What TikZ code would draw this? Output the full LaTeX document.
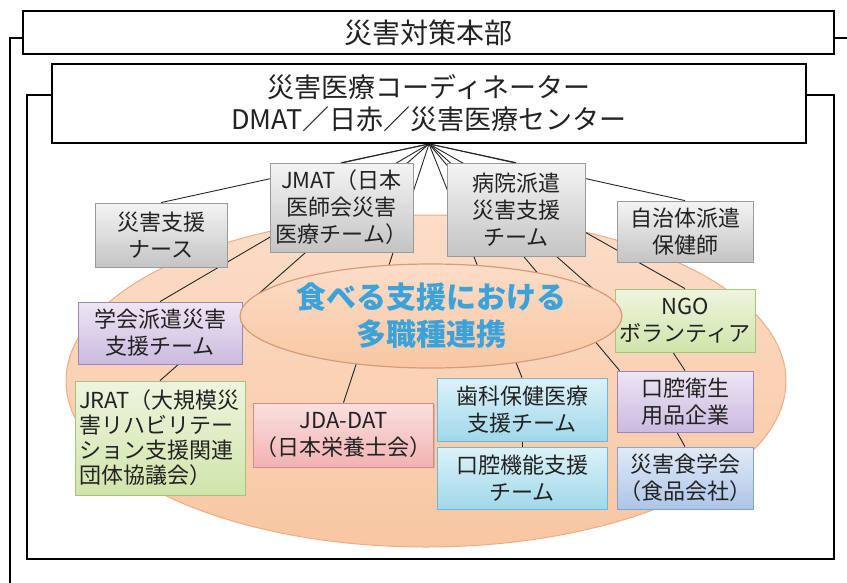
\documentclass[tikz,border=0pt]{standalone}
\usepackage{fontspec}
\setmainfont{Noto Sans CJK JP}
\usetikzlibrary{shapes.geometric,shadows,calc}
\pgfdeclarelayer{bg}
\pgfdeclarelayer{lines}
\pgfsetlayers{bg,lines,main}
\definecolor{greyT}{HTML}{F4F4F4}
\definecolor{greyB}{HTML}{C4C4C4}
\definecolor{greyD}{HTML}{9A9A9A}
\definecolor{purpT}{HTML}{EDE6F4}
\definecolor{purpB}{HTML}{CBBADF}
\definecolor{purpD}{HTML}{9C86B8}
\definecolor{greenT}{HTML}{EEF5DF}
\definecolor{greenB}{HTML}{D0E4AA}
\definecolor{greenD}{HTML}{A7C47C}
\definecolor{pinkT}{HTML}{FBE0E0}
\definecolor{pinkB}{HTML}{F2B2B2}
\definecolor{pinkD}{HTML}{D48A8A}
\definecolor{cyanT}{HTML}{DDF2F9}
\definecolor{cyanB}{HTML}{A0D8EA}
\definecolor{cyanD}{HTML}{72B7CE}
\definecolor{blueT}{HTML}{E2EAF6}
\definecolor{blueB}{HTML}{ACC5E8}
\definecolor{blueD}{HTML}{86A3CC}
\definecolor{peachT}{HTML}{FCDDC8}
\definecolor{peachB}{HTML}{F8C7A2}
\definecolor{peachD}{HTML}{EDAD84}
\definecolor{cblue}{HTML}{3BA3DA}
\definecolor{txt}{HTML}{222222}
\begin{document}
\begin{tikzpicture}[x=1pt,y=-1pt,
  frame/.style={draw=black, line width=1.8pt},
  titlebox/.style={rectangle, draw=black, line width=1.8pt, fill=white, inner sep=0pt, align=center, text=txt},
  base/.style={rectangle, inner sep=2pt, align=center, text=txt, line width=0.8pt,
    font=\fontsize{22}{27}\selectfont,
    drop shadow={shadow xshift=1.3pt, shadow yshift=-1.3pt, opacity=0.3}},
  greybox/.style={base, draw=greyD, top color=greyT, bottom color=greyB},
  purpbox/.style={base, draw=purpD, top color=purpT, bottom color=purpB},
  greenbox/.style={base, draw=greenD, top color=greenT, bottom color=greenB},
  pinkbox/.style={base, draw=pinkD, top color=pinkT, bottom color=pinkB},
  cyanbox/.style={base, draw=cyanD, top color=cyanT, bottom color=cyanB},
  bluebox/.style={base, draw=blueD, top color=blueT, bottom color=blueB},
  conn/.style={draw=black!85, line width=0.9pt}
]
\useasboundingbox (0,0) rectangle (847,582);
\begin{pgfonlayer}{bg}
  \fill[white] (0,0) rectangle (847,582);
  \node[ellipse, inner sep=0pt, minimum width=720pt, minimum height=332pt,
        draw=peachD, line width=1pt, top color=peachT, bottom color=peachB] (field) at (426,381) {};
\end{pgfonlayer}

% headquarters and coordinator
\node[titlebox, minimum width=811pt, minimum height=43pt, font=\fontsize{28}{32}\selectfont] (top) at (428.5,32.5) {災害対策本部};
\node[titlebox, minimum width=754pt, minimum height=79pt, font=\fontsize{27}{32}\selectfont] (coord) at (429,103.5) {災害医療コーディネーター\\DMAT／日赤／災害医療センター};

\draw[frame] (top.west |- 0,38) -- (10,38) -- (10,590);
\draw[frame] (top.east |- 0,38) -- (850,38);
\draw[frame] (coord.west |- 0,95) -- (27,95) -- (27,559) -- (834,559) -- (834,95) -- (coord.east |- 0,95);

% teams
\node[greybox, minimum width=132pt, minimum height=64pt] (nurse) at (161,235) {災害支援\\ナース};
\node[greybox, minimum width=143pt, minimum height=89pt] (jmat) at (341.5,207.5) {JMAT（日本\\医師会災害\\医療チーム）};
\node[greybox, minimum width=138pt, minimum height=93pt] (hosp) at (516,209.5) {病院派遣\\災害支援\\チーム};
\node[greybox, minimum width=136pt, minimum height=61pt] (muni) at (685,231.5) {自治体派遣\\保健師};
\node[greenbox, minimum width=140pt, minimum height=63pt] (ngo) at (685,320.5) {NGO\\ボランティア};
\node[purpbox, minimum width=136pt, minimum height=61pt] (oral) at (685,401.5) {口腔衛生\\用品企業};
\node[bluebox, minimum width=136pt, minimum height=62pt] (food) at (685,478) {災害食学会\\（食品会社）};
\node[cyanbox, minimum width=170pt, minimum height=63pt] (dental) at (522,409.5) {歯科保健医療\\支援チーム};
\node[cyanbox, minimum width=170pt, minimum height=62pt] (oralfn) at (522,478) {口腔機能支援\\チーム};
\node[pinkbox, minimum width=167pt, minimum height=64pt] (jda) at (343.5,435) {JDA-DAT\\（日本栄養士会）};
\node[purpbox, minimum width=164pt, minimum height=62pt] (gakkai) at (160,333) {学会派遣災害\\支援チーム};
\node[greenbox, minimum width=170pt, minimum height=114pt, align=left, font=\fontsize{22}{25}\selectfont, text width=162pt] (jrat) at (160,438) {JRAT（大規模災\\害リハビリテー\\ション支援関連\\団体協議会）};

% central theme
\node[ellipse, inner sep=0pt, minimum width=306pt, minimum height=104pt, draw=peachD!90!black, line width=1.2pt,
      top color=peachT, bottom color=peachB, align=center, text=cblue,
      font=\fontsize{30}{37}\selectfont\bfseries] (theme) at (431,316) {食べる支援における\\多職種連携};

% connectors
\begin{pgfonlayer}{lines}
  \draw[conn] (coord.south) -- (nurse.north);
  \draw[conn] (coord.south) -- (jmat.north);
  \draw[conn] (coord.south) -- (gakkai.north);
  \draw[conn] (coord.south) -- (jrat.north);
  \draw[conn] (coord.south) -- (jda.north);
  \draw[conn] (coord.south) -- (hosp.north);
  \draw[conn] (coord.south) -- (dental.north);
  \draw[conn] (coord.south) -- ([xshift=3pt]oral.north west);
  \draw[conn] (coord.south) -- ($(ngo.north west)!0.3!(ngo.south west)$);
  \draw[conn] (coord.south) -- (ngo.north);
  \draw[conn] (coord.south) -- (muni.north);
  \draw[conn] ([xshift=-12pt]ngo.south) -- (oral.north);
  \draw[conn] ([xshift=-8pt]oral.south) -- (food.north);
  \draw[conn] (dental.south) -- (oralfn.north);
\end{pgfonlayer}
\end{tikzpicture}
\end{document}
